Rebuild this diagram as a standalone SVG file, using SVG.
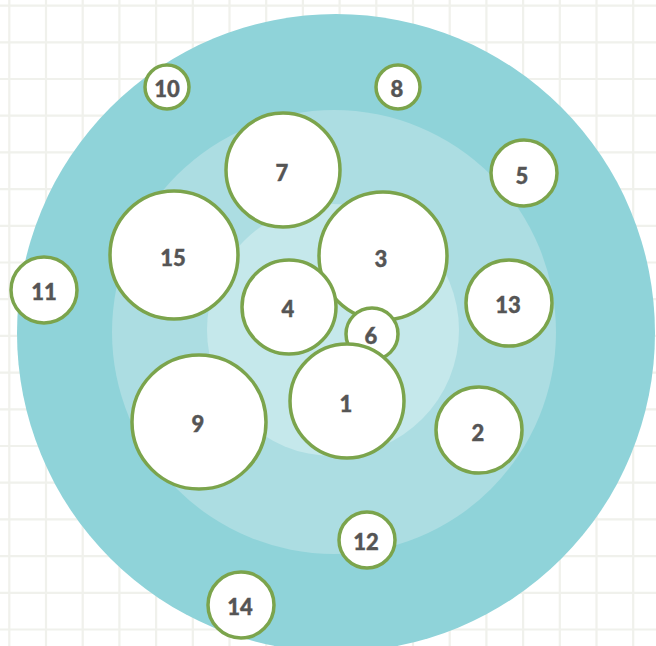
<svg xmlns="http://www.w3.org/2000/svg" width="656" height="646" viewBox="0 0 656 646">
<style>
.grid{stroke:#f0f1ec;stroke-width:2.2;fill:none}
.node circle{fill:#ffffff;stroke:#7ba44c;stroke-width:3.5}
.node text{font-family:Lato,"Open Sans",sans-serif;font-weight:900;font-size:22px;fill:#555555;stroke:#555555;stroke-width:0.4;text-anchor:middle;dominant-baseline:central}
</style>
<rect width="656" height="646" fill="#ffffff"/>
<path class="grid" d="M9.3 0V646M46 0V646M82.7 0V646M119.4 0V646M156.1 0V646M192.8 0V646M229.5 0V646M266.2 0V646M302.9 0V646M339.6 0V646M376.3 0V646M413 0V646M449.7 0V646M486.4 0V646M523.1 0V646M559.8 0V646M596.5 0V646M633.2 0V646M0 5.6H656M0 42.3H656M0 79H656M0 115.7H656M0 152.4H656M0 189.1H656M0 225.8H656M0 262.5H656M0 299.2H656M0 335.9H656M0 372.6H656M0 409.3H656M0 446H656M0 482.7H656M0 519.4H656M0 556.1H656M0 592.8H656M0 629.5H656"/>
<g id="rings">
<circle cx="336" cy="333" r="319" fill="#8fd3d9"/>
<circle cx="334" cy="332" r="222" fill="#acdde2"/>
<circle cx="333" cy="330" r="126" fill="#c5e8eb"/>
</g>
<g id="connectors"></g>
<g id="n10" class="node"><circle cx="167" cy="87" r="22"/><text x="167" y="88">10</text></g>
<g id="n8" class="node"><circle cx="398" cy="87" r="22"/><text x="397" y="88">8</text></g>
<g id="n5" class="node"><circle cx="524" cy="173" r="33"/><text x="522" y="175">5</text></g>
<g id="n11" class="node"><circle cx="44" cy="290" r="33"/><text x="44" y="291">11</text></g>
<g id="n7" class="node"><circle cx="283" cy="170" r="57"/><text x="282" y="172">7</text></g>
<g id="n15" class="node"><circle cx="174" cy="255" r="64"/><text x="173" y="257">15</text></g>
<g id="n3" class="node"><circle cx="383" cy="256" r="64"/><text x="381" y="258">3</text></g>
<g id="n4" class="node"><circle cx="289" cy="307" r="47"/><text x="288" y="308">4</text></g>
<g id="n13" class="node"><circle cx="509" cy="303" r="43"/><text x="508" y="304">13</text></g>
<g id="n6" class="node"><circle cx="372" cy="334" r="26"/><text x="371" y="335">6</text></g>
<g id="n1" class="node"><circle cx="347" cy="401" r="57"/><text x="346" y="403">1</text></g>
<g id="n9" class="node"><circle cx="199" cy="422" r="67"/><text x="198" y="423">9</text></g>
<g id="n2" class="node"><circle cx="479" cy="430" r="43"/><text x="478" y="432">2</text></g>
<g id="n12" class="node"><circle cx="367" cy="540" r="28"/><text x="366" y="541">12</text></g>
<g id="n14" class="node"><circle cx="241" cy="605" r="33"/><text x="240" y="606">14</text></g>
</svg>
